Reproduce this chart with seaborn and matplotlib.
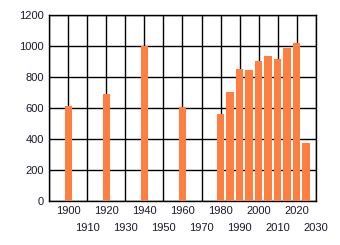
import matplotlib
matplotlib.use("Agg")
import matplotlib.pyplot as plt
import seaborn as sns

years = [1900, 1920, 1940, 1960, 1980, 1985, 1990, 1995, 2000, 2005, 2010, 2015, 2020, 2025]
values = [615, 692, 1002, 608, 563, 707, 854, 847, 905, 938, 918, 989, 1021, 376]
xtick_vals = list(range(1890, 2031, 10))
ytick_vals = [0, 200, 400, 600, 800, 1000, 1200]

sns.set_style("white")
plt.rcParams['font.family'] = ['Liberation Sans', 'DejaVu Sans']

fig = plt.figure(figsize=(3.4, 2.45), dpi=100)
ax = fig.add_axes([0.145, 0.1784, 0.7835, 0.7592])

sns.barplot(x=years, y=values, native_scale=True, color="#FF7F40",
            saturation=1, width=0.8, linewidth=0, edgecolor="none",
            ax=ax, zorder=3)

ax.set_xlim(1890, 2030)
ax.set_ylim(0, 1200)
ax.set_xticks(xtick_vals)
ax.set_xticklabels(['' if v == 1890 else str(v) for v in xtick_vals])
ax.set_yticks(ytick_vals)
ax.set_yticklabels([str(v) for v in ytick_vals])
ax.set_axisbelow(True)
ax.grid(True, color='black', linewidth=1)
for s in ax.spines.values():
    s.set_color('black')
    s.set_linewidth(1)
    s.set_visible(True)
ax.tick_params(axis='both', which='both', direction='out', length=2.5, width=1,
               color='black', labelsize=8, labelcolor='#1a1a2a')
ax.tick_params(axis='y', pad=1.5)
ax.tick_params(axis='x', pad=1.0)
for v, t in zip(xtick_vals, ax.xaxis.get_major_ticks()):
    if (v // 10) % 2 == 1:
        t.set_pad(13.0)
ax.set_xlabel('')
ax.set_ylabel('')

fig.savefig("out.png", dpi=100)
